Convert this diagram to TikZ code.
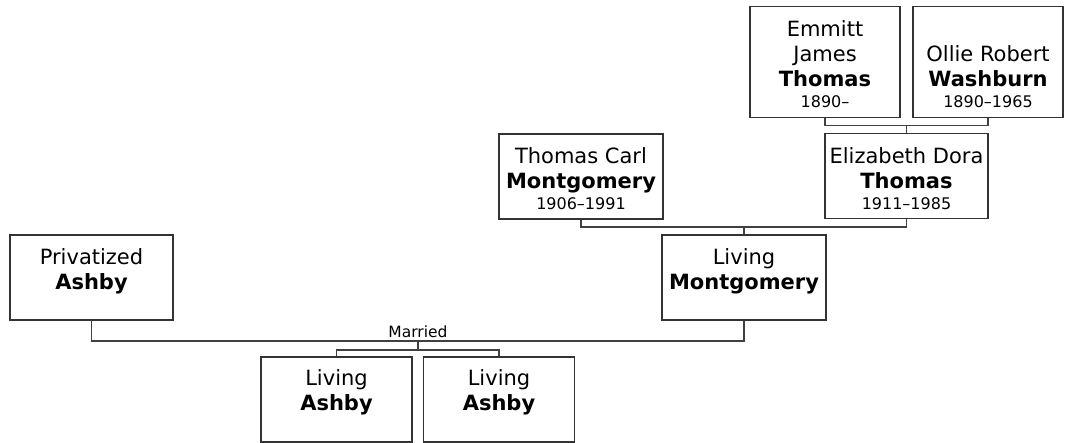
\documentclass[tikz,border=0pt]{standalone}
\usepackage{fontspec}
\setmainfont{DejaVu Sans}
\newcommand\nmfont{\fontsize{21}{25}\selectfont}
\newcommand\dtfont{\fontsize{16}{21}\selectfont}
\newcommand\lblfont{\fontsize{15.5}{18}\selectfont}
\newcommand\pcell[4]{\parbox[c][#2][t]{#1}{\centering\rule{0pt}{#3}#4}}
\tikzset{
  person/.style={draw=black!80, line width=1.4pt, fill=white, rectangle, inner sep=0pt},
  conn/.style={draw=black!75, line width=1.3pt},
  lbl/.style={font=\lblfont, inner sep=0pt}
}
\begin{document}
\begin{tikzpicture}[x=1pt, y=-1pt]
\useasboundingbox (0,0) rectangle (1066,442);
% generation 1
\node[person] (em) at (825,62) {\pcell{150pt}{111pt}{29.5pt}{\nmfont Emmitt\par James\par\textbf{Thomas}\par\dtfont 1890–\par}};
\node[person] (ol) at (988,62) {\pcell{150pt}{111pt}{55pt}{\nmfont Ollie Robert\par\textbf{Washburn}\par\dtfont 1890–1965\par}};
% generation 2
\node[person] (tc) at (581,176.5) {\pcell{164pt}{85pt}{29.5pt}{\nmfont Thomas Carl\par\textbf{Montgomery}\par\dtfont 1906–1991\par}};
\node[person] (el) at (906.5,176) {\pcell{163pt}{85pt}{29.5pt}{\nmfont Elizabeth Dora\par\textbf{Thomas}\par\dtfont 1911–1985\par}};
% generation 3
\node[person] (pa) at (91.5,277.5) {\pcell{163pt}{85pt}{29.5pt}{\nmfont Privatized\par\textbf{Ashby}\par}};
\node[person] (lm) at (744,277.5) {\pcell{164pt}{85pt}{29.5pt}{\nmfont Living\par\textbf{Montgomery}\par}};
% generation 4
\node[person] (la1) at (336.5,399.5) {\pcell{151pt}{85pt}{28.5pt}{\nmfont Living\par\textbf{Ashby}\par}};
\node[person] (la2) at (499,399.5) {\pcell{151pt}{85pt}{28.5pt}{\nmfont Living\par\textbf{Ashby}\par}};
% junctions
\coordinate (j1) at (906.5,125.5);
\coordinate (j2) at (744,227);
\coordinate (j3) at (418,341);
\coordinate (j4) at (418,350);
% connectors
\draw[conn] (em.south) |- (j1) -| (ol.south);
\draw[conn] (j1) -- (el.north);
\draw[conn] (tc.south) |- (j2) -| (el.south);
\draw[conn] (j2) -- (lm.north);
\draw[conn] (pa.south) |- (j3) -| (lm.south);
\node[lbl, anchor=base] (married) at (418,337) {Married};
\draw[conn] (j3) -- (j4);
\draw[conn] (la1.north) |- (j4) -| (la2.north);
\end{tikzpicture}
\end{document}
